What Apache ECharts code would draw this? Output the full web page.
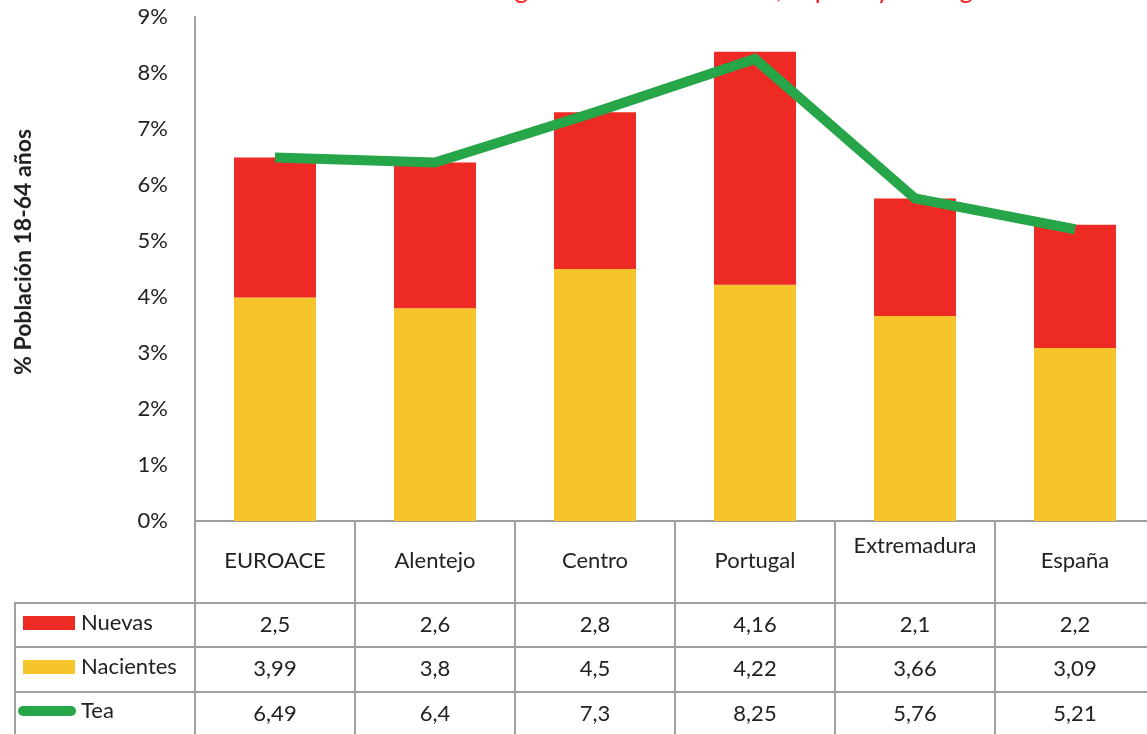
<!DOCTYPE html>
<html>
<head>
<meta charset="utf-8">
<script src="https://cdn.jsdelivr.net/npm/echarts@6/dist/echarts.min.js"></script>
<style>
html,body{margin:0;padding:0;background:#fff;}
#c{width:1147px;height:734px;}
</style>
</head>
<body>
<div id="c"></div>
<script>
const categories = ['EUROACE', 'Alentejo', 'Centro', 'Portugal', 'Extremadura', 'España'];
const nuevas = [2.5, 2.6, 2.8, 4.16, 2.1, 2.2];
const nacientes = [3.99, 3.8, 4.5, 4.22, 3.66, 3.09];
const tea = [6.49, 6.4, 7.3, 8.25, 5.76, 5.21];
const yTicks = [0, 1, 2, 3, 4, 5, 6, 7, 8, 9];
const titleText = 'Tasa TEA en las regiones de la EUROACE, España y Portugal';
const yName = '% Población 18-64 años';

const FONT = 'Lato';
const GRAY = '#a0a0a0';
const TXT = '#222222';
const RED = '#ee2a24';
const YELLOW = '#f5c52b';
const GREEN = '#27a549';

const fmt = v => String(v).replace('.', ',');

function tableAxis(values, offset, tickLen) {
  return {
    type: 'category', gridIndex: 0, position: 'bottom', offset: offset,
    data: categories,
    axisLine: {show: true, lineStyle: {color: GRAY, width: 2}},
    axisTick: {show: true, length: tickLen, alignWithLabel: false, lineStyle: {color: GRAY, width: 2}},
    axisLabel: {
      show: true, interval: 0, margin: 22, verticalAlign: 'middle',
      fontFamily: FONT, fontSize: 22, color: TXT,
      formatter: (v, i) => fmt(values[i])
    },
    splitLine: {show: false}
  };
}

// legend icons: invisible moveTo points fix the 62x14 box
const barIcon = 'path://M0,0M62,14M9,0h52v14h-52z';
const lineIcon = 'path://M0,0M62,14M9,2h48a5,5 0 0 1 0,10h-48a5,5 0 0 1 0,-10z';

const chart = echarts.init(document.getElementById('c'), null, {renderer: 'canvas'});
chart.setOption({
  backgroundColor: '#ffffff',
  animation: false,
  title: {
    text: titleText, right: 150, top: -28,
    textStyle: {color: '#ff1a1a', fontSize: 26, fontWeight: 'normal', fontFamily: FONT}
  },
  legend: {
    orient: 'vertical', left: 14, top: 612, padding: 0,
    itemWidth: 62, itemHeight: 14, itemGap: 22,
    textStyle: {fontFamily: FONT, fontSize: 22, color: TXT},
    data: [
      {name: 'Nuevas', icon: barIcon},
      {name: 'Nacientes', icon: barIcon},
      {name: 'Tea', icon: lineIcon}
    ]
  },
  grid: {left: 195, top: 17, width: 960, height: 504, containLabel: false, outerBoundsMode: 'none'},
  xAxis: [
    {
      type: 'category', data: categories, position: 'bottom',
      axisLine: {show: true, lineStyle: {color: GRAY, width: 2}},
      axisTick: {show: true, length: 82, alignWithLabel: false, lineStyle: {color: GRAY, width: 2}},
      axisLabel: {
        interval: 0, margin: 40, verticalAlign: 'middle',
        fontFamily: FONT, fontSize: 22, color: TXT, lineHeight: 30,
        formatter: v => v === 'Extremadura' ? v + '\n ' : v
      }
    },
    tableAxis(nuevas, 82, 44),
    tableAxis(nacientes, 126, 45),
    tableAxis(tea, 171, 45)
  ],
  yAxis: {
    type: 'value', min: yTicks[0], max: yTicks[yTicks.length - 1], interval: 1,
    name: yName, nameLocation: 'middle', nameGap: 160,
    nameTextStyle: {fontFamily: FONT, fontSize: 23, fontWeight: 'bold', color: TXT, padding: [0, 0, 0, 34]},
    axisLine: {show: true, lineStyle: {color: GRAY, width: 2}},
    axisTick: {show: false},
    splitLine: {show: false},
    axisLabel: {formatter: '{value}%', fontFamily: FONT, fontSize: 22, color: TXT, margin: 27}
  },
  series: [
    {name: 'Nacientes', type: 'bar', stack: 'tea', data: nacientes, barWidth: 82,
     itemStyle: {color: YELLOW}},
    {name: 'Nuevas', type: 'bar', stack: 'tea', data: nuevas, barWidth: 82,
     itemStyle: {color: RED}},
    {name: 'Tea', type: 'line', data: tea, symbol: 'none', z: 5,
     lineStyle: {color: GREEN, width: 10, join: 'miter'}, itemStyle: {color: GREEN}}
  ],
  graphic: [
    {type: 'line', shape: {x1: 15, y1: 603, x2: 195, y2: 603}, style: {stroke: GRAY, lineWidth: 2}},
    {type: 'line', shape: {x1: 15, y1: 647, x2: 195, y2: 647}, style: {stroke: GRAY, lineWidth: 2}},
    {type: 'line', shape: {x1: 15, y1: 692, x2: 195, y2: 692}, style: {stroke: GRAY, lineWidth: 2}},
    {type: 'line', shape: {x1: 15, y1: 602, x2: 15, y2: 740}, style: {stroke: GRAY, lineWidth: 2}}
  ]
});
</script>
</body>
</html>
